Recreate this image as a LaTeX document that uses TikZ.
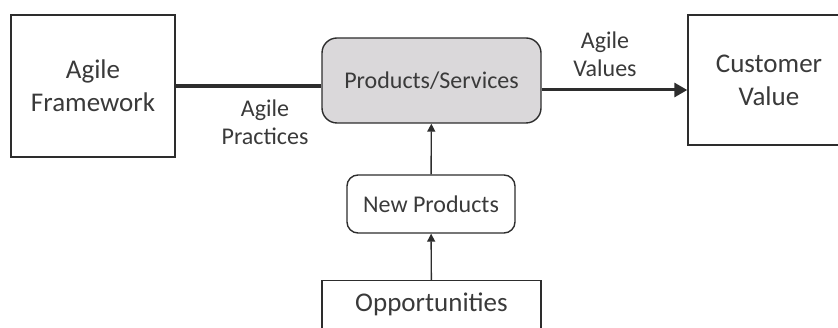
\documentclass[tikz,border=0pt]{standalone}
\usepackage{fontspec}
\setmainfont{Carlito}
\definecolor{boxFill}{RGB}{218,216,218}
\definecolor{edgeGray}{RGB}{45,45,45}
\definecolor{textGray}{RGB}{58,58,58}
\usetikzlibrary{positioning,arrows.meta}

\begin{document}
\begin{tikzpicture}[x=10pt,y=-10pt,
    plainbox/.style={draw=edgeGray, line width=1.4pt, align=center, text=textGray, inner sep=0pt, font=\fontsize{27}{33}\selectfont},
    roundbox/.style={draw=edgeGray, line width=1.4pt, align=center, text=textGray, inner sep=0pt, font=\fontsize{24}{29}\selectfont},
    lbl/.style={align=center, text=textGray, font=\fontsize{24}{28}\selectfont}]
    \useasboundingbox (0,0) rectangle (83.8,32.8);

    % Framework (left) and customer side (right)
    \node[plainbox, minimum width=164pt, minimum height=142pt] (frame) at (9.3,8.6) {Agile\\Framework};
    \node[plainbox, minimum width=162pt, minimum height=130pt] (cust) at (76.9,8.0) {Customer\\Value};

    % Centre column
    \node[roundbox, fill=boxFill, rounded corners=15pt, minimum width=219pt, minimum height=85pt] (prod) at (43.15,8.05) {Products/Services};
    \node[roundbox, rounded corners=11pt, minimum width=168pt, minimum height=58pt] (newp) at (43.1,20.4) {New Products};
    % runs off the bottom, text kept near its top edge
    \node[plainbox, minimum width=219pt, text height=31pt, text depth=49pt, anchor=north] (opp) at (43.15,28.0) {Opportunities};

    % Connectors
    \draw[edgeGray, line width=4pt] (frame.east) -- (frame.east -| prod.west);
    \draw[edgeGray, line width=3pt, -{Triangle[length=13pt,width=14pt]}] ([yshift=-9.5pt]prod.east) -- ([yshift=-9.5pt]prod.east -| cust.west);
    \draw[edgeGray, line width=1.4pt, -{Triangle[length=8pt,width=8pt]}] (newp) -- (prod);
    \draw[edgeGray, line width=1.4pt, -{Triangle[length=8pt,width=8pt]}] (opp) -- (newp);

    % Connector labels
    \node[lbl] (prac) at (26.5,12.2) {Agile\\Practices};
    \node[lbl] (vals) at (60.5,5.4) {Agile\\Values};
\end{tikzpicture}
\end{document}
